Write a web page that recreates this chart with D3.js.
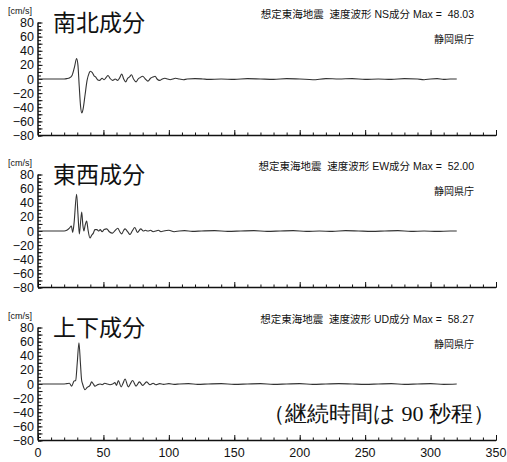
<!DOCTYPE html>
<html>
<head>
<meta charset="utf-8">
<script src="https://cdn.jsdelivr.net/npm/d3@7"></script>
<style>
  body { margin: 0; background: #fff; }
  svg { display: block; }
</style>
</head>
<body>
<script>
// 波形データ [時間(s), 速度(cm/s)] - 図から読み取り
const nsWave = [[0,0],[20,0],[22,0.5],[24,1.5],[26,5],[28,18],[29.5,29],[30.5,20],[31.5,-10],[32.5,-38],[33.5,-48.03],[34.5,-42],[36,-22],[37.5,-2],[39,8],[40,11],[41.5,9],[43,4],[44,3],[45.5,-1],[47,-2],[49,1],[50.5,-1],[52,2],[53.5,5],[55,1],[57,-2],[59,0],[61,-2],[62.5,2],[64,7],[65.5,0],[67,-4],[68.5,1],[70,3],[71.5,6],[73,0],[75,-4],[76.5,0],[78,2],[80,4],[82,0],[84,-3],[86,1],[88,3],[89.5,4],[91,0],[93,-2],[95,0],[97,1],[99,0],[101,-1],[103,0],[105,1],[108,0],[111,-1],[114,0],[120,0.5],[126,0],[130,-0.5],[140,0],[150,-0.5],[160,0.5],[170,0],[180,-0.5],[190,0.5],[200,0],[210,-1],[220,0.5],[230,0],[240,0.5],[250,-0.5],[260,0],[270,-0.5],[280,0.5],[290,0],[295,-1],[300,0],[305,0.5],[310,-0.5],[315,0],[320,0]];

const ewWave = [[0,0],[20,0],[22,1],[24,4],[25.5,7],[26.5,-2],[27.5,10],[29.5,52],[30.5,25],[31.6,-4],[32.5,12],[33.4,27],[34.3,8],[35.1,0],[36,8],[37.2,14],[38.2,2],[39.7,-10],[41,-6],[42.3,-3],[43.5,2],[45,2],[46.5,0],[47.5,2],[49,-1],[50.5,2],[52.5,3],[54.5,-1],[57,-3],[59,1],[61,4],[62.5,-1],[64,-4],[65.5,1],[66.5,3],[68.5,-1],[70.3,-5],[72,0],[74,5],[76,-2],[78.5,3],[80.5,0],[82,1],[84,0],[86,1],[88,-1],[90,0],[92,1],[94,-1],[96,0],[100,1],[104,-1],[108,0],[112,0.5],[118,-0.5],[125,0],[135,0.5],[145,-0.5],[155,0],[165,0.5],[175,-0.5],[185,0],[195,0.5],[205,-0.5],[215,0],[225,-0.5],[235,0.5],[245,0],[255,-0.5],[265,0],[275,0.5],[285,-0.5],[295,0],[305,-0.5],[315,0],[320,0]];

const udWave = [[0,0],[19,0],[22,0.5],[24,1],[25.7,-3],[27.5,4],[28.8,5],[30,30],[31.3,58.27],[32.4,30],[33.3,6],[34.1,0],[35.9,-8],[37.5,-5],[39.7,-2],[41,3],[42.3,0],[43.5,-3],[45.5,-1],[47.4,0],[49,-1],[51,1],[53,0],[55,-1],[57,0],[58.8,2],[60,-2],[61.4,5],[63.5,-4],[65,1],[66.5,7],[69,-4],[70.5,0],[72.3,5],[74.9,-3],[77.5,3],[80,-2],[83,3],[85.6,-1],[88,1],[90,-1],[93,0.5],[96,-0.5],[100,0.5],[104,-0.5],[108,0],[115,0.5],[122,-0.5],[130,0],[140,0.5],[150,-0.5],[160,0],[170,0.5],[180,-0.5],[190,0],[200,0.5],[210,-0.5],[220,0],[230,0.5],[240,0],[250,-0.5],[260,0],[270,0.5],[280,-0.5],[290,0],[300,0.5],[310,-0.5],[320,0]];

const components = ["南北成分", "東西成分", "上下成分"];
const compCodes = ["NS", "EW", "UD"];
const maxValues = ["48.03", "52.00", "58.27"];
const waves = [nsWave, ewWave, udWave];
const yTickLabels = [80, 60, 40, 20, 0, -20, -40, -60, -80];
const xTickLabels = [0, 50, 100, 150, 200, 250, 300, 350];

const W = 507, H = 462;
const left = 38, right = 496;
const panelTops = [22.5, 174.5, 327.5];
const panelH = 113;

const sansJP = "'Noto Sans CJK JP', sans-serif";
const sans = "'Liberation Sans', Arial, Helvetica, sans-serif";
const mixed = "'Liberation Sans', 'Noto Sans CJK JP', sans-serif";

const svg = d3.select("body").append("svg")
  .attr("width", W)
  .attr("height", H);

const x = d3.scaleLinear().domain([0, 350]).range([left, right]);

panelTops.forEach((top, i) => {
  const y = d3.scaleLinear().domain([-80, 80]).range([top + panelH, top]);
  const g = svg.append("g");

  // y 軸 (目盛りは内側)
  const yMinor = g.append("g")
    .attr("transform", "translate(" + left + ",0)")
    .call(d3.axisRight(y).tickValues(d3.range(-80, 81, 5)).tickSize(3).tickFormat(""));
  yMinor.select(".domain").remove();
  yMinor.selectAll("line").attr("stroke", "#111");

  const yMajor = g.append("g")
    .attr("transform", "translate(" + left + ",0)")
    .call(d3.axisRight(y).tickValues(d3.range(-80, 81, 10)).tickSize(4.5).tickFormat(""));
  yMajor.select(".domain").remove();
  yMajor.selectAll("line").attr("stroke", "#111");

  g.selectAll(".ylab")
    .data(yTickLabels)
    .enter().append("text")
    .attr("class", "ylab")
    .attr("x", 34)
    .attr("y", d => y(d) + 4.5)
    .attr("text-anchor", "end")
    .style("font-family", sans)
    .style("font-size", "12.5px")
    .attr("fill", "#111")
    .text(d => d < 0 ? "\u2212" + Math.abs(d) : d);

  // x 軸
  const xMinor = g.append("g")
    .attr("transform", "translate(0," + (top + panelH) + ")")
    .call(d3.axisTop(x).tickValues(d3.range(0, 351, 10)).tickSize(3).tickFormat(""));
  xMinor.select(".domain").remove();
  xMinor.selectAll("line").attr("stroke", "#111");

  const xMajor = g.append("g")
    .attr("transform", "translate(0," + (top + panelH) + ")")
    .call(d3.axisTop(x).tickValues(xTickLabels).tickSize(5.5).tickFormat(""));
  xMajor.select(".domain").remove();
  xMajor.selectAll("line").attr("stroke", "#111");

  g.append("line")
    .attr("x1", left).attr("x2", left)
    .attr("y1", top).attr("y2", top + panelH)
    .attr("stroke", "#111").attr("stroke-width", 1.5);
  g.append("line")
    .attr("x1", left).attr("x2", right)
    .attr("y1", top + panelH).attr("y2", top + panelH)
    .attr("stroke", "#111").attr("stroke-width", 1.5);

  // 波形
  const line = d3.line()
    .x(d => x(d[0]))
    .y(d => y(d[1]))
    .curve(d3.curveMonotoneX);
  g.append("path")
    .datum(waves[i])
    .attr("fill", "none")
    .attr("stroke", "#333")
    .attr("stroke-width", 1.1)
    .attr("d", line);

  // 文字
  g.append("text")
    .attr("x", 8).attr("y", top - 9)
    .style("font-family", sans)
    .style("font-size", "9px")
    .attr("fill", "#111")
    .text("[cm/s]");

  g.append("text")
    .attr("x", 53).attr("y", top + 8)
    .style("font-family", sansJP)
    .style("font-size", "23px")
    .attr("fill", "#111")
    .text(components[i]);

  g.append("text")
    .attr("x", 474).attr("y", top - 5)
    .attr("text-anchor", "end")
    .style("font-family", mixed)
    .style("font-size", "10.5px")
    .attr("fill", "#111")
    .attr("xml:space", "preserve")
    .text("想定東海地震  速度波形 " + compCodes[i] + "成分 Max =  " + maxValues[i]);

  g.append("text")
    .attr("x", 474).attr("y", top + 20)
    .attr("text-anchor", "end")
    .style("font-family", sansJP)
    .style("font-size", "10px")
    .attr("fill", "#111")
    .text("静岡県庁");
});

// x 軸ラベル (最下段のみ)
svg.selectAll(".xlab")
  .data(xTickLabels)
  .enter().append("text")
  .attr("class", "xlab")
  .attr("x", d => x(d))
  .attr("y", 457)
  .attr("text-anchor", "middle")
  .style("font-family", sans)
  .style("font-size", "12.5px")
  .attr("fill", "#111")
  .text(d => d);

svg.append("text")
  .attr("x", 495).attr("y", 421)
  .attr("text-anchor", "end")
  .style("font-family", "'Liberation Serif', 'DejaVu Serif', serif")
  .style("font-size", "22px")
  .attr("fill", "#111")
  .text("（継続時間は 90 秒程）");
</script>
</body>
</html>
